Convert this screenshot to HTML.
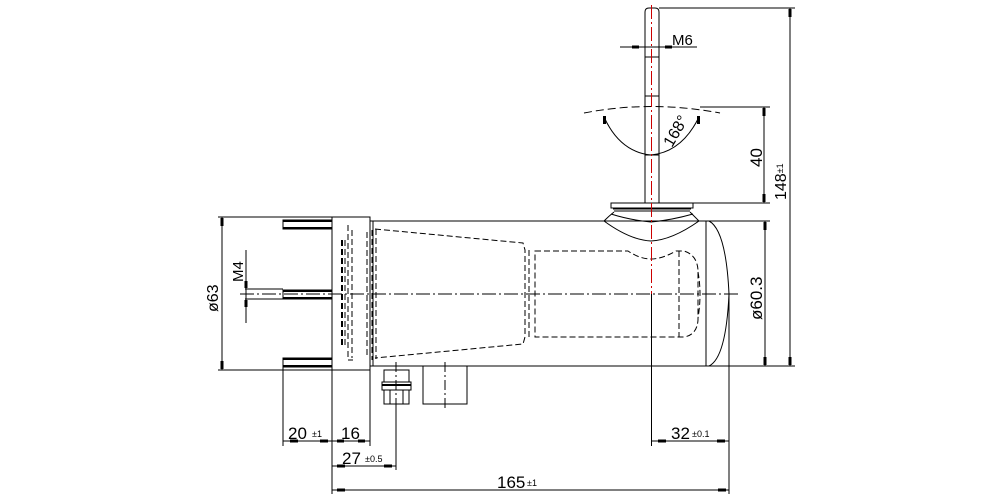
<!DOCTYPE html>
<html><head><meta charset="utf-8"><style>
html,body{margin:0;padding:0;background:#fff;}
svg{display:block;}
text{font-family:"Liberation Sans",sans-serif;fill:#000;}
</style></head><body>
<svg width="1000" height="500" viewBox="0 0 1000 500" xmlns="http://www.w3.org/2000/svg">
<g stroke="#000" stroke-width="1" fill="none">
<!-- flange block -->
<rect x="332" y="217" width="38" height="153"/>
<!-- body -->
<line x1="370" y1="221" x2="709" y2="221"/>
<line x1="370" y1="366" x2="709" y2="366"/>
<line x1="373" y1="221" x2="373" y2="366"/>
<line x1="706" y1="221" x2="706" y2="366"/>
<path d="M709 221 Q726 230 729 294 Q726 358 709 366"/>
<!-- studs -->
<rect x="283" y="220" width="49" height="9"/>
<rect x="283" y="290" width="49" height="9"/>
<rect x="283" y="358" width="49" height="9"/>
<line x1="283" y1="221" x2="332" y2="221" stroke-width="2"/>
<line x1="283" y1="228" x2="332" y2="228" stroke-width="2"/>
<line x1="283" y1="291" x2="332" y2="291" stroke-width="2"/>
<line x1="283" y1="298" x2="332" y2="298" stroke-width="2"/>
<line x1="283" y1="359" x2="332" y2="359" stroke-width="2"/>
<line x1="283" y1="366" x2="332" y2="366" stroke-width="2"/>
<!-- flange dashed internals -->
<g stroke-dasharray="6,3">
<line x1="342" y1="240" x2="342" y2="348" stroke-width="2"/>
<line x1="345" y1="240" x2="345" y2="348"/>
<path d="M348 225 L348 360 L353 360"/>
<line x1="352" y1="230" x2="352" y2="358"/>
<line x1="367" y1="232" x2="367" y2="358"/>
<line x1="372" y1="230" x2="372" y2="360"/>
<line x1="376" y1="229" x2="376" y2="359"/>
<path d="M375 229 L523 243 L525 250 L525 337 L523 344 L375 358"/>
<line x1="529" y1="250" x2="529" y2="337"/>
<path d="M535 251 L628 251 Q640 259 651 259 Q662 259 676 251 L684 251 Q697 255 698 270 L698 320 Q697 335 684 337 L535 337 Z"/>
<line x1="679" y1="251" x2="679" y2="337"/>
<path d="M698 272 Q702 294 698 318"/>
</g>
<!-- neck -->
<rect x="611" y="203" width="82" height="5"/>
<line x1="613" y1="209" x2="691" y2="209"/>
<line x1="614" y1="211" x2="690" y2="211"/>
<path d="M614 212 Q609 216 604 221 Q630 240 651 241 Q672 240 699 221 Q694 216 690 212"/>
<path d="M611 214 Q630 220 651 222 Q672 220 693 214"/>
<!-- stud M6 -->
<path d="M645 203 L645 12 Q645 8 649 8 L655 8 Q659 8 659 12 L659 203"/>
<line x1="645" y1="57" x2="659" y2="57"/>
<line x1="645" y1="96" x2="659" y2="96"/>
<line x1="645" y1="155" x2="659" y2="155"/>
<!-- angle -->
<path d="M584 113 Q651 100 720 113" stroke-dasharray="8,4"/>
<path d="M604 117 Q620 152 651 155 Q682 152 699 117"/>
<!-- connector -->
<rect x="384" y="370" width="25" height="12"/>
<rect x="382" y="382" width="29" height="8"/>
<line x1="382" y1="385" x2="411" y2="385" stroke-width="2"/>
<rect x="384" y="390" width="25" height="14"/>
<line x1="390" y1="390" x2="390" y2="404"/><line x1="403" y1="390" x2="403" y2="404"/>
<rect x="423" y="366" width="44" height="38"/>
<!-- centerlines -->
<line x1="240" y1="294" x2="740" y2="294" stroke-dasharray="14,3,2,3"/>
<line x1="445" y1="362" x2="445" y2="408" stroke-dasharray="10,3,2,3"/>
<line x1="396" y1="362" x2="396" y2="408" stroke-dasharray="10,3,2,3"/>
<line x1="651.5" y1="5" x2="651.5" y2="294" stroke="#c00" stroke-dasharray="14,3,2,3"/>
<!-- extension lines -->
<line x1="218" y1="217" x2="332" y2="217"/>
<line x1="218" y1="370" x2="332" y2="370"/>
<line x1="245" y1="289" x2="283" y2="289"/>
<line x1="245" y1="299" x2="283" y2="299"/>
<line x1="283" y1="367" x2="283" y2="446"/>
<line x1="332" y1="370" x2="332" y2="494"/>
<line x1="370" y1="370" x2="370" y2="446"/>
<line x1="396" y1="404" x2="396" y2="470"/>
<line x1="651.5" y1="294" x2="651.5" y2="446"/>
<line x1="729" y1="294" x2="729" y2="494"/>
<line x1="659" y1="8" x2="795" y2="8"/>
<line x1="693" y1="203" x2="770" y2="203"/>
<line x1="700" y1="107" x2="770" y2="107"/>
<line x1="709" y1="221" x2="770" y2="221"/>
<line x1="709" y1="366" x2="795" y2="366"/>
<!-- dim lines -->
<line x1="222" y1="217" x2="222" y2="370"/>
<line x1="246" y1="250" x2="246" y2="323"/>
<line x1="620" y1="47" x2="697" y2="47"/>
<line x1="764" y1="107" x2="764" y2="203"/>
<line x1="765" y1="221" x2="765" y2="366"/>
<line x1="790" y1="8" x2="790" y2="366"/>
<line x1="283" y1="441" x2="370" y2="441"/>
<line x1="651.5" y1="441" x2="729" y2="441"/>
<line x1="332" y1="466" x2="396" y2="466"/>
<line x1="332" y1="490" x2="729" y2="490"/>
</g>
<!-- arrowheads -->
<g fill="#000">
<rect x="220.5" y="218" width="3" height="8"/><rect x="220.5" y="361" width="3" height="8"/>
<rect x="244.5" y="281" width="3" height="7"/><rect x="244.5" y="300" width="3" height="7"/>
<rect x="632" y="45.5" width="7" height="3"/><rect x="665" y="45.5" width="7" height="3"/>
<rect x="762.5" y="108" width="3" height="8"/><rect x="762.5" y="194" width="3" height="8"/>
<rect x="763.5" y="222" width="3" height="8"/><rect x="763.5" y="357" width="3" height="8"/>
<rect x="788.5" y="9" width="3" height="8"/><rect x="788.5" y="357" width="3" height="8"/>
<rect x="290" y="439.5" width="8" height="3"/><rect x="320" y="439.5" width="8" height="3"/>
<rect x="337" y="439.5" width="7" height="3"/><rect x="358" y="439.5" width="7" height="3"/>
<rect x="658" y="439.5" width="8" height="3"/><rect x="717" y="439.5" width="8" height="3"/>
<rect x="337" y="464.5" width="8" height="3"/><rect x="384" y="464.5" width="8" height="3"/>
<rect x="337" y="488.5" width="8" height="3"/><rect x="718" y="488.5" width="8" height="3"/>
<rect x="603" y="116" width="3" height="8"/><rect x="697" y="116" width="3" height="8"/>
</g>
<!-- text -->
<text x="288" y="439" font-size="17">20</text><text x="312" y="437" font-size="9">±1</text>
<text x="341" y="439" font-size="17">16</text>
<text x="342" y="464" font-size="17">27</text><text x="365" y="462" font-size="9">±0.5</text>
<text x="497" y="488" font-size="17">165</text><text x="527" y="486" font-size="9">±1</text>
<text x="671" y="439" font-size="17">32</text><text x="692" y="437" font-size="9">±0.1</text>
<text x="672" y="45" font-size="15">M6</text>
<text transform="translate(218,312) rotate(-90)" font-size="16">ø63</text>
<text transform="translate(243,282) rotate(-90)" font-size="15">M4</text>
<text transform="translate(762,167) rotate(-90)" font-size="17">40</text>
<text transform="translate(762,320) rotate(-90)" font-size="17">ø60.3</text>
<text transform="translate(786,200) rotate(-90)" font-size="16">148<tspan font-size="9" dy="-3">±1</tspan></text>
<text transform="translate(672,148) rotate(-60)" font-size="16">168°</text>
</svg>
</body></html>
